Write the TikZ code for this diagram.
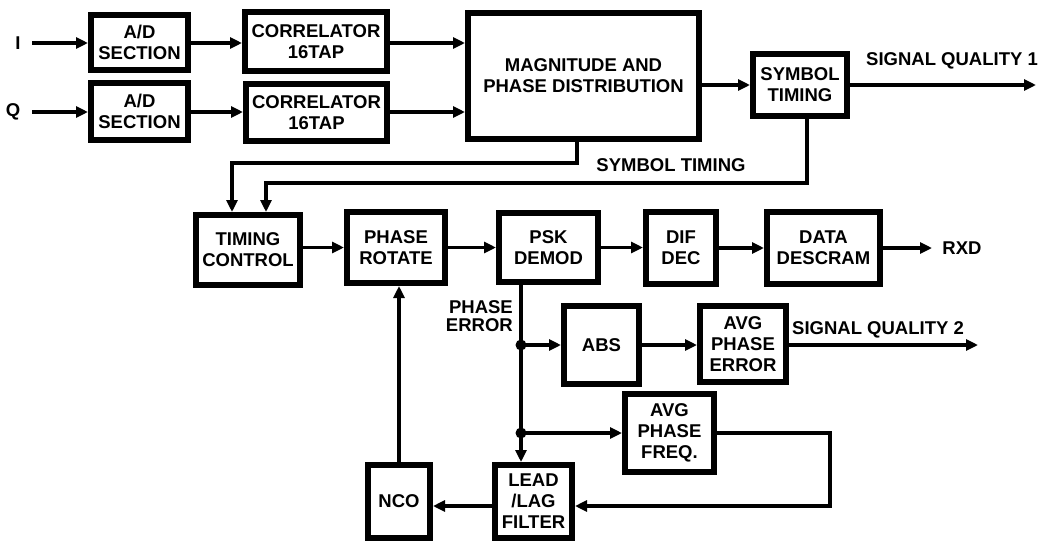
\documentclass[tikz,border=0pt]{standalone}
\usepackage{fontspec}
\setmainfont{Liberation Sans}
\usetikzlibrary{arrows.meta,calc}
\tikzset{
  blk/.style={draw, line width=6pt, inner sep=0pt, align=center, font=\fontsize{18.5}{21}\selectfont\bfseries},
  conn/.style={line width=3.5pt},
  arr/.style={conn, -{Triangle[length=12pt,width=11pt]}},
  lbl/.style={inner sep=0pt, align=center, font=\fontsize{18.5}{21}\selectfont\bfseries},
  jdot/.style={circle, fill, inner sep=0pt, minimum size=11pt}
}
\begin{document}
\begin{tikzpicture}[x=1pt,y=-1pt]
\useasboundingbox (0,0) rectangle (1038,544);
% blocks (outer size minus border)
\node[blk, minimum width=97pt, minimum height=55pt] (ad1) at (139.5,42.5) {A/D\\SECTION};
\node[blk, minimum width=97pt, minimum height=57pt] (ad2) at (139.5,111) {A/D\\SECTION};
\node[blk, minimum width=142pt, minimum height=59pt] (cor1) at (316,41.5) {CORRELATOR\\16TAP};
\node[blk, minimum width=141pt, minimum height=57pt] (cor2) at (316.5,112.5) {CORRELATOR\\16TAP};
\node[blk, minimum width=231pt, minimum height=126pt] (mag) at (583.5,76) {MAGNITUDE AND\\PHASE DISTRIBUTION};
\node[blk, minimum width=94pt, minimum height=62pt] (st) at (800,85) {SYMBOL\\TIMING};
\node[blk, minimum width=104pt, minimum height=70pt] (tc) at (248,250) {TIMING\\CONTROL};
\node[blk, minimum width=98pt, minimum height=71pt] (pr) at (396,247.5) {PHASE\\ROTATE};
\node[blk, minimum width=99pt, minimum height=69pt] (psk) at (548.5,247.5) {PSK\\DEMOD};
\node[blk, minimum width=70pt, minimum height=72pt] (dif) at (681,248) {DIF\\DEC};
\node[blk, minimum width=113pt, minimum height=72pt] (ds) at (823.5,248) {DATA\\DESCRAM};
\node[blk, minimum width=75pt, minimum height=78pt] (abs) at (601.5,345) {ABS};
\node[blk, minimum width=86pt, minimum height=76pt] (ape) at (743,344) {AVG\\PHASE\\ERROR};
\node[blk, minimum width=89pt, minimum height=78pt] (apf) at (669.5,433) {AVG\\PHASE\\FREQ.};
\node[blk, minimum width=77pt, minimum height=73pt] (ll) at (533.5,501.5) {LEAD\\/LAG\\FILTER};
\node[blk, minimum width=62pt, minimum height=73pt] (nco) at (399,501.5) {NCO};
% labels
\node[lbl] (li) at (18,43) {I};
\node[lbl] (lq) at (13,112) {Q};
\node[lbl] (lsq1) at (952,61) {SIGNAL QUALITY 1};
\node[lbl] (lst) at (671,165) {SYMBOL TIMING};
\node[lbl] (lrxd) at (962,248) {RXD};
\node[lbl, align=right, anchor=east, font=\fontsize{18.5}{18.5}\selectfont\bfseries] (lpe) at (513,316) {PHASE\\ERROR};
\node[lbl] (lsq2) at (878,330) {SIGNAL QUALITY 2};
% coordinates
\coordinate (iin) at (32,43);
\coordinate (qin) at (32,112);
\coordinate (sq1) at (1036,85);
\coordinate (rxd) at (932,248);
\coordinate (sq2) at (978,345);
\coordinate (m1) at (577,163);
\coordinate (s1) at (807,183);
\coordinate (j1) at (521,345);
\coordinate (j2) at (521,433);
\coordinate (f1) at (830,506);
% connectors
\draw[arr] (iin) -- (iin -| ad1.west);
\draw[arr] (qin) -- (qin -| ad2.west);
\draw[arr] (ad1.east |- iin) -- (iin -| cor1.west);
\draw[arr] (ad2.east |- qin) -- (qin -| cor2.west);
\draw[arr] (cor1.east |- iin) -- (iin -| mag.west);
\draw[arr] (cor2.east |- qin) -- (qin -| mag.west);
\draw[arr] (mag.east |- st.west) -- (st.west);
\draw[arr] (st.east) -- (sq1);
\draw[arr] (mag.south -| m1) -- (m1) -| ($(tc.north)+(-16,0)$);
\draw[arr] (st.south -| s1) -- (s1) -| ($(tc.north)+(18,0)$);
\draw[arr] (tc.east |- pr.west) -- (pr.west);
\draw[arr] (pr.east) -- (psk.west);
\draw[arr] (psk.east) -- (psk.east -| dif.west);
\draw[arr] (dif.east) -- (ds.west);
\draw[arr] (ds.east) -- (rxd);
\draw[conn] (psk.south -| j1) -- (j2);
\draw[arr] (j1) -- (j1 -| abs.west);
\draw[arr] (abs.east) -- (abs.east -| ape.west);
\draw[arr] (ape.east |- sq2) -- (sq2);
\draw[arr] (j2) -- (j2 -| apf.west);
\draw[arr] (j2) -- (j2 |- ll.north);
\draw[arr] (apf.east) -| (f1) -- (f1 -| ll.east);
\draw[arr] (ll.west |- f1) -- (f1 -| nco.east);
\draw[arr] (nco.north) -- (nco.north |- pr.south);
\node[jdot] (d1) at (j1) {};
\node[jdot] (d2) at (j2) {};
\end{tikzpicture}
\end{document}
